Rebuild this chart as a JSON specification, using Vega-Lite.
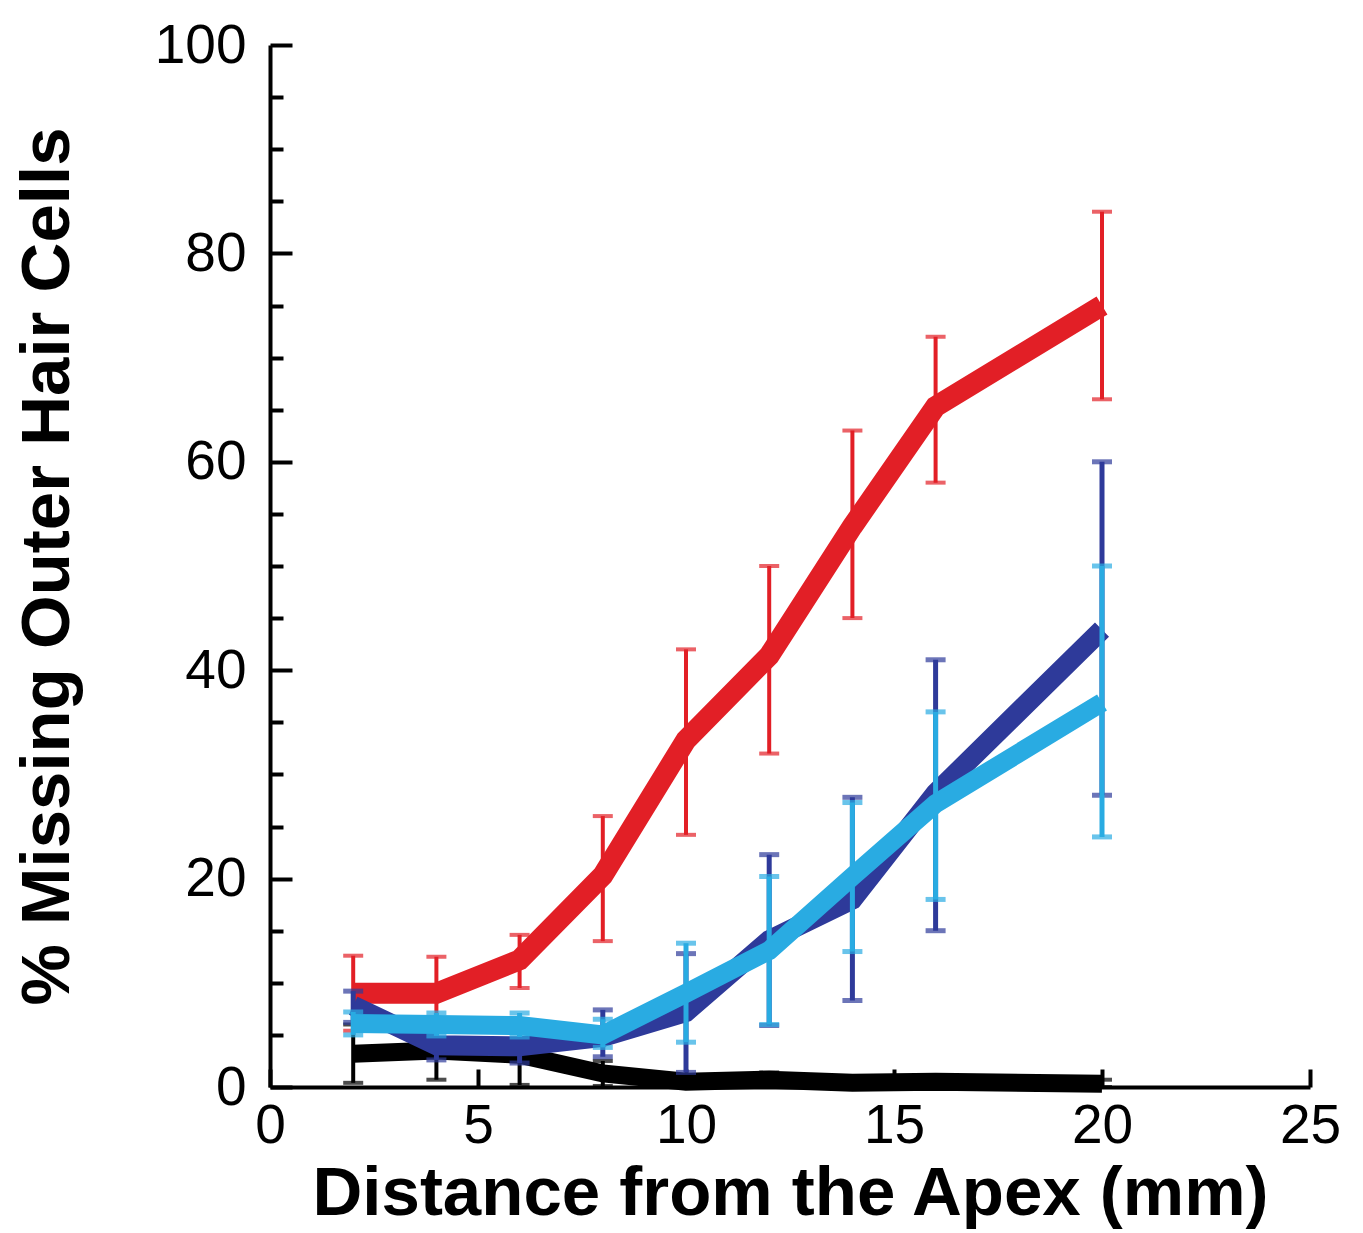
{
  "$schema": "https://vega.github.io/schema/vega-lite/v6.json",
  "autosize": "none",
  "width": 1040,
  "height": 1042,
  "padding": {"left": 270, "top": 45, "right": 53, "bottom": 146},
  "background": "white",
  "datasets": {
    "pts": [
      {"s": "black", "x": 2, "y": 3.2, "lo": 0.4, "hi": 6.0},
      {"s": "black", "x": 4, "y": 3.5, "lo": 0.7, "hi": 6.3},
      {"s": "black", "x": 6, "y": 3.1, "lo": 0.2, "hi": 6.0},
      {"s": "black", "x": 8, "y": 1.3, "lo": 0.1, "hi": 2.5},
      {"s": "black", "x": 10, "y": 0.5, "lo": 0.1, "hi": 0.9},
      {"s": "black", "x": 12, "y": 0.7, "lo": 0.2, "hi": 1.4},
      {"s": "black", "x": 14, "y": 0.4, "lo": 0.1, "hi": 0.7},
      {"s": "black", "x": 16, "y": 0.5, "lo": 0.1, "hi": 0.9},
      {"s": "black", "x": 20, "y": 0.3, "lo": 0.0, "hi": 0.7},
      {"s": "red", "x": 2, "y": 9.0, "lo": 5.4, "hi": 12.6},
      {"s": "red", "x": 4, "y": 9.0, "lo": 5.5, "hi": 12.5},
      {"s": "red", "x": 6, "y": 12.2, "lo": 9.5, "hi": 14.6},
      {"s": "red", "x": 8, "y": 20.3, "lo": 14.0, "hi": 26.0},
      {"s": "red", "x": 10, "y": 33.3, "lo": 24.2, "hi": 42.0},
      {"s": "red", "x": 12, "y": 41.4, "lo": 32.0, "hi": 50.0},
      {"s": "red", "x": 14, "y": 53.8, "lo": 45.0, "hi": 63.0},
      {"s": "red", "x": 16, "y": 65.3, "lo": 58.0, "hi": 72.0},
      {"s": "red", "x": 20, "y": 75.0, "lo": 66.0, "hi": 84.0},
      {"s": "navy", "x": 2, "y": 7.8, "lo": 6.2, "hi": 9.2},
      {"s": "navy", "x": 4, "y": 4.0, "lo": 2.6, "hi": 5.4},
      {"s": "navy", "x": 6, "y": 3.9, "lo": 2.3, "hi": 5.6},
      {"s": "navy", "x": 8, "y": 4.8, "lo": 2.9, "hi": 7.4},
      {"s": "navy", "x": 10, "y": 7.2, "lo": 1.4, "hi": 12.8},
      {"s": "navy", "x": 12, "y": 14.1, "lo": 5.9, "hi": 22.3},
      {"s": "navy", "x": 14, "y": 18.0, "lo": 8.3, "hi": 27.8},
      {"s": "navy", "x": 16, "y": 28.2, "lo": 15.0, "hi": 41.0},
      {"s": "navy", "x": 20, "y": 43.9, "lo": 28.0, "hi": 60.0},
      {"s": "cyan", "x": 2, "y": 6.1, "lo": 5.0, "hi": 7.2},
      {"s": "cyan", "x": 4, "y": 6.0, "lo": 4.9, "hi": 7.1},
      {"s": "cyan", "x": 6, "y": 5.9, "lo": 4.8, "hi": 7.1},
      {"s": "cyan", "x": 8, "y": 5.0, "lo": 3.8, "hi": 6.5},
      {"s": "cyan", "x": 10, "y": 9.0, "lo": 4.3, "hi": 13.8},
      {"s": "cyan", "x": 12, "y": 13.1, "lo": 6.0, "hi": 20.2},
      {"s": "cyan", "x": 14, "y": 20.2, "lo": 13.0, "hi": 27.3},
      {"s": "cyan", "x": 16, "y": 27.2, "lo": 18.0, "hi": 36.0},
      {"s": "cyan", "x": 20, "y": 36.9, "lo": 24.0, "hi": 50.0}
    ]
  },
  "data": {"name": "pts"},
  "config": {
    "view": {"stroke": null},
    "font": "Liberation Sans",
    "axis": {
      "grid": false,
      "domainColor": "black",
      "domainWidth": 4,
      "tickColor": "black",
      "tickWidth": 4,
      "labelColor": "black",
      "labelFont": "Liberation Sans",
      "labelFontSize": 55,
      "titleFont": "Liberation Sans",
      "titleFontSize": 69,
      "titleFontWeight": "bold",
      "titleColor": "black",
      "labelFlush": false,
      "labelOverlap": false
    },
    "axisX": {"tickCount": 5, "tickSize": -18, "labelPadding": 30, "titlePadding": 6},
    "axisY": {"tickCount": 5, "tickSize": -22, "labelPadding": 46, "titlePadding": 72}
  },
  "resolve": {"axis": {"y": "independent"}},
  "layer": [
    {
      "encoding": {
        "x": {"field": "x", "type": "quantitative", "scale": {"domain": [0, 25], "nice": false}, "title": "Distance from the Apex (mm)"}
      },
      "layer": [
        {
          "transform": [{"filter": "datum.s === 'black'"}],
          "layer": [
            {
              "mark": {"type": "errorbar", "orient": "vertical", "ticks": true, "size": 20, "thickness": 4},
              "encoding": {
                "y": {"field": "lo", "type": "quantitative", "scale": {"domain": [0, 100], "nice": false}, "title": "% Missing Outer Hair Cells"},
                "y2": {"field": "hi"},
                "color": {"value": "#000000"}
              }
            },
            {
              "mark": {"type": "line", "strokeWidth": 18, "color": "#000000"},
              "encoding": {
                "y": {"field": "y", "type": "quantitative", "scale": {"domain": [0, 100], "nice": false}, "title": "% Missing Outer Hair Cells"}
              }
            }
          ]
        },
        {
          "transform": [{"filter": "datum.s === 'red'"}],
          "layer": [
            {
              "mark": {"type": "errorbar", "orient": "vertical", "ticks": true, "size": 20, "thickness": 4},
              "encoding": {
                "y": {"field": "lo", "type": "quantitative", "scale": {"domain": [0, 100], "nice": false}, "title": "% Missing Outer Hair Cells"},
                "y2": {"field": "hi"},
                "color": {"value": "#E21F26"}
              }
            },
            {
              "mark": {"type": "line", "strokeWidth": 21, "color": "#E21F26"},
              "encoding": {
                "y": {"field": "y", "type": "quantitative", "scale": {"domain": [0, 100], "nice": false}, "title": "% Missing Outer Hair Cells"}
              }
            }
          ]
        },
        {
          "transform": [{"filter": "datum.s === 'navy'"}],
          "layer": [
            {
              "mark": {"type": "errorbar", "orient": "vertical", "ticks": true, "size": 20, "thickness": 5},
              "encoding": {
                "y": {"field": "lo", "type": "quantitative", "scale": {"domain": [0, 100], "nice": false}, "title": "% Missing Outer Hair Cells"},
                "y2": {"field": "hi"},
                "color": {"value": "#2E3A9A"}
              }
            },
            {
              "mark": {"type": "line", "strokeWidth": 20, "color": "#2E3A9A"},
              "encoding": {
                "y": {"field": "y", "type": "quantitative", "scale": {"domain": [0, 100], "nice": false}, "title": "% Missing Outer Hair Cells"}
              }
            }
          ]
        },
        {
          "transform": [{"filter": "datum.s === 'cyan'"}],
          "layer": [
            {
              "mark": {"type": "errorbar", "orient": "vertical", "ticks": true, "size": 20, "thickness": 5},
              "encoding": {
                "y": {"field": "lo", "type": "quantitative", "scale": {"domain": [0, 100], "nice": false}, "title": "% Missing Outer Hair Cells"},
                "y2": {"field": "hi"},
                "color": {"value": "#29ABE2"}
              }
            },
            {
              "mark": {"type": "line", "strokeWidth": 19, "color": "#29ABE2"},
              "encoding": {
                "y": {"field": "y", "type": "quantitative", "scale": {"domain": [0, 100], "nice": false}, "title": "% Missing Outer Hair Cells"}
              }
            }
          ]
        }
      ]
    },
    {
      "mark": {"type": "point", "opacity": 0},
      "encoding": {
        "x": {"field": "x", "type": "quantitative", "scale": {"domain": [0, 25], "nice": false}, "title": "Distance from the Apex (mm)"},
        "y": {
          "field": "y",
          "type": "quantitative",
          "scale": {"domain": [0, 100], "nice": false},
          "axis": {"orient": "left", "values": [5, 10, 15, 25, 30, 35, 45, 50, 55, 65, 70, 75, 85, 90, 95], "tickCount": 100, "labels": false, "domain": false, "tickSize": -13, "title": null}
        }
      }
    }
  ]
}
